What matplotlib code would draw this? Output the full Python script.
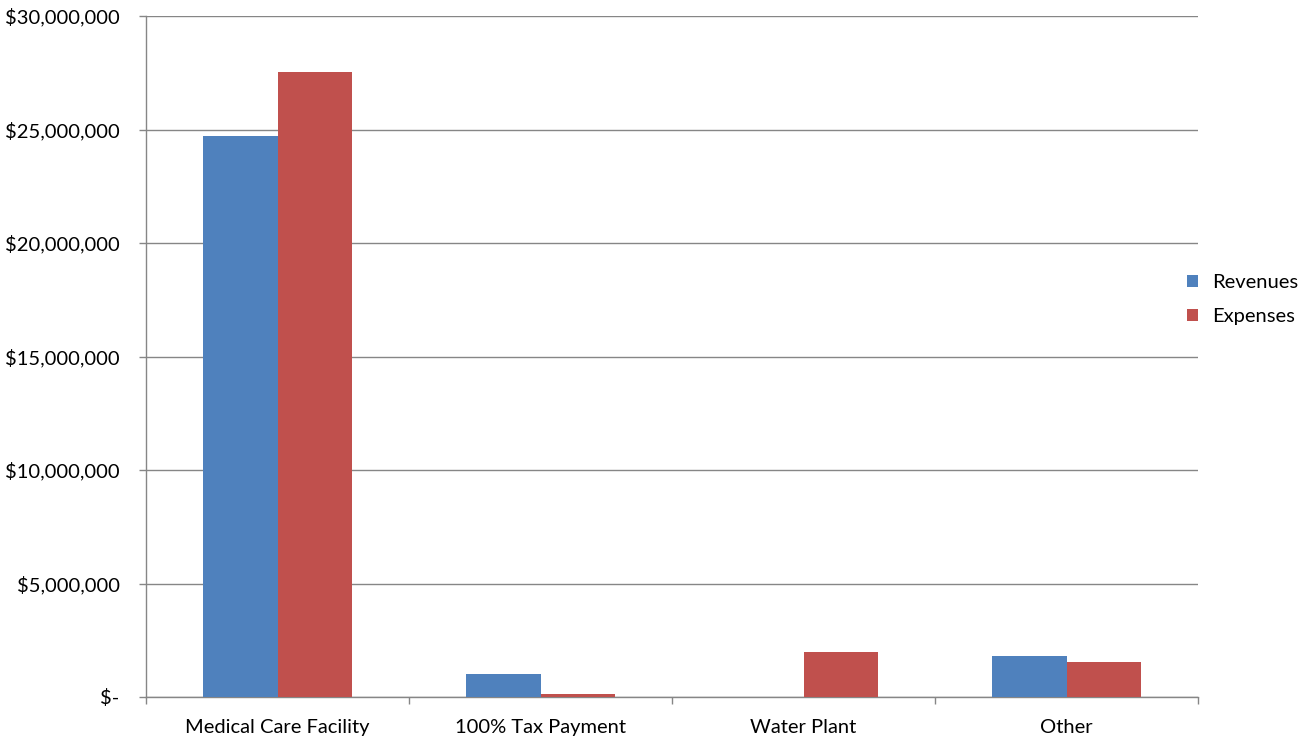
import matplotlib.pyplot as plt
import numpy as np
from matplotlib.ticker import FuncFormatter

plt.rcParams['font.family'] = ['Lato', 'DejaVu Sans']

categories = ['Medical Care Facility', '100% Tax Payment', 'Water Plant', 'Other']
revenues = [24_720_000, 1_010_000, 0, 1_810_000]
expenses = [27_540_000, 150_000, 1_980_000, 1_560_000]

blue = '#4F81BD'
red = '#C0504D'
grid = '#868686'
fs = 14.5

fig = plt.figure(figsize=(13.07, 7.42), dpi=100)
ax = fig.add_axes([146 / 1307, 1 - 697 / 742, 1052 / 1307, 681 / 742])

x = np.arange(len(categories))
w = 0.285
ax.bar(x - w / 2, revenues, w, color=blue, label='Revenues', zorder=3)
ax.bar(x + w / 2, expenses, w, color=red, label='Expenses', zorder=3)

ax.set_xlim(-0.5, len(categories) - 0.5)
ax.set_ylim(0, 30_000_000)
ax.set_yticks(np.arange(0, 30_000_001, 5_000_000))
ax.yaxis.set_major_formatter(FuncFormatter(
    lambda v, _: '$-' if v == 0 else f'${v:,.0f}'))
ax.grid(axis='y', color=grid, linewidth=1, zorder=0)

# category labels centred, tick marks on the boundaries
ax.set_xticks(x)
ax.set_xticklabels(categories)
ax.set_xticks(np.arange(-0.5, len(categories)), minor=True)
ax.tick_params(axis='x', which='major', length=0, pad=16, labelsize=fs)
ax.tick_params(axis='x', which='minor', length=5, color=grid, width=1)
ax.tick_params(axis='y', length=5, color=grid, width=1, pad=14, labelsize=fs)

for side in ['top', 'right']:
    ax.spines[side].set_visible(False)
for side in ['left', 'bottom']:
    ax.spines[side].set_color(grid)
    ax.spines[side].set_linewidth(1)

fig.legend(loc='center left', bbox_to_anchor=(1187 / 1307, 1 - 299.5 / 742),
           frameon=False, fontsize=fs, borderpad=0, borderaxespad=0,
           handlelength=0.55, handleheight=0.55, labelspacing=0.85,
           handletextpad=0.7)

fig.savefig('out.png', dpi=100)
